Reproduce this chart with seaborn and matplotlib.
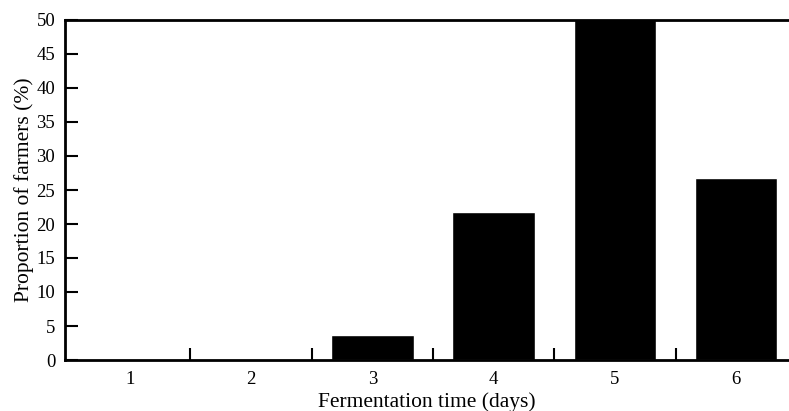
import matplotlib
matplotlib.use("Agg")
import matplotlib.pyplot as plt
import seaborn as sns
import pandas as pd
import numpy as np

days = ["1", "2", "3", "4", "5", "6"]
proportion = [0, 0, 3.7, 21.7, 50.5, 26.8]

sns.set_style("ticks", {"axes.edgecolor": "black", "xtick.color": "black",
                        "ytick.color": "black", "text.color": "black",
                        "axes.labelcolor": "black"})
plt.rcParams['font.family'] = ['Liberation Serif', 'DejaVu Serif']

df = pd.DataFrame({"days": days, "proportion": proportion})

fig = plt.figure(figsize=(7.89, 4.11), dpi=100)
ax = fig.add_axes([65 / 789, 51 / 411, 1 - 65 / 789, 340 / 411])

sns.barplot(data=df, x="days", y="proportion", color="black", width=0.68,
            saturation=1, ax=ax)

ax.set_ylim(0, 50)
ax.set_xlim(-0.535, 5.436)
ax.set_yticks(np.arange(0, 51, 5))
ax.tick_params(axis='y', direction='in', length=9, width=1.5, labelsize=13.5, pad=7)
ax.tick_params(axis='x', which='major', length=0, labelsize=13.5, pad=8)
ax.set_xticks(np.arange(0.5, 5, 1), minor=True)
ax.tick_params(axis='x', which='minor', direction='in', length=9, width=1.5)

ax.set_xlabel("Fermentation time (days)", fontsize=15.5, labelpad=3)
ax.set_ylabel("Proportion of farmers (%)", fontsize=15.5, labelpad=2)

for side in ['left', 'bottom', 'top']:
    ax.spines[side].set_linewidth(2)
ax.spines['right'].set_visible(False)

fig.savefig("out.png", dpi=100)
